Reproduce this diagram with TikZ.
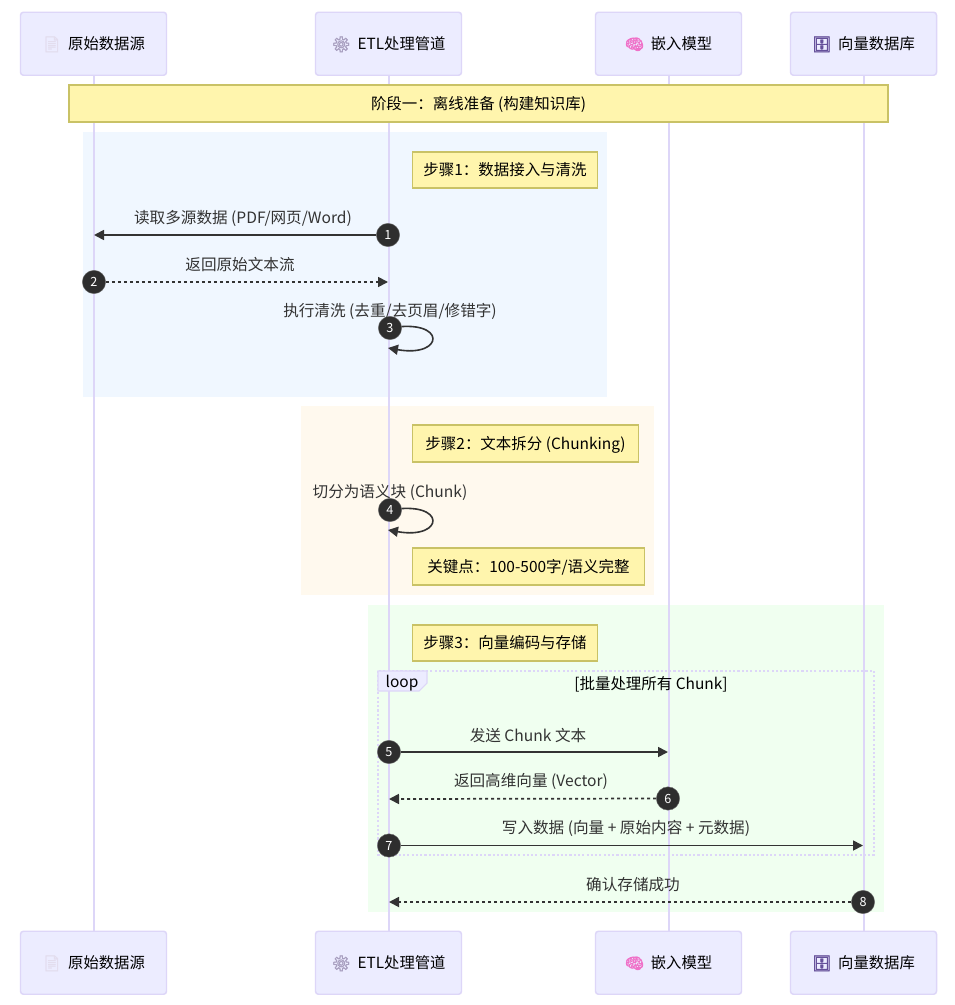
\documentclass[tikz,border=0pt]{standalone}
\usepackage{fontspec}
\setmainfont{Noto Sans CJK SC}
\newfontfamily\emo[FakeBold=2.5]{Noto Emoji}
\usetikzlibrary{arrows.meta,shapes.misc}
\definecolor{actfill}{HTML}{ECECFF}
\definecolor{actline}{HTML}{DDD6F8}
\definecolor{notefill}{HTML}{FFF5AD}
\definecolor{noteline}{HTML}{C9C266}
\definecolor{msg}{HTML}{333333}
\pgfdeclarelayer{bg}
\pgfdeclarelayer{mid}
\pgfsetlayers{bg,mid,main}
\tikzset{
  actor/.style={draw=actline,fill=actfill,line width=1.1pt,rounded corners=2.2pt,minimum width=109.5pt,minimum height=47.25pt,inner sep=0pt,font=\fontsize{11.5pt}{14pt}\selectfont,text=black},
  life/.style={draw=actline,line width=1.5pt},
  notebox/.style={draw=noteline,fill=notefill,line width=1.1pt,inner sep=0pt,font=\fontsize{11.6pt}{14pt}\selectfont,text=black},
  msgtext/.style={inner sep=0pt,text=msg,font=\fontsize{11.7pt}{14pt}\selectfont},
  solidmsg/.style={draw=msg,line width=1.3pt,-{Triangle[length=7.5pt,width=7.5pt]}},
  dashmsg/.style={draw=msg,line width=1.3pt,dash pattern=on 2.25pt off 2.25pt,-{Triangle[length=7.5pt,width=7.5pt,sep=0pt]}},
  selfmsg/.style={draw=msg,line width=1.2pt,-{Triangle[length=7.5pt,width=7.5pt]}},
  badge/.style={circle,fill=msg!90!black,draw=msg!70,line width=.3pt,minimum size=17.5pt,inner sep=0pt,text=white,font=\fontsize{9.5pt}{10pt}\selectfont},
  loopframe/.style={draw=actline,line width=1.5pt,dash pattern=on 1.6pt off 1.6pt},
  looptag/.style={draw=actline,fill=actfill,line width=.8pt},
  looptext/.style={inner sep=0pt,text=black,font=\fontsize{11.6pt}{14pt}\selectfont}
}
\newcommand{\acticon}[2]{\textcolor[HTML]{#1}{\emo\symbol{"#2}}\hspace{5pt}}
\newcommand{\lowtxt}[1]{\raisebox{-0.38em}[1em][1em]{#1}}
\begin{document}
\begin{tikzpicture}[x=0.75pt,y=-0.75pt]
\useasboundingbox (0,0) rectangle (955,1005);
% actors
\node[actor] (a1) at (93.5,43.75) {\lowtxt{\acticon{E3DDEE}{1F4C4}原始数据源}};
\node[actor] (a2) at (388.5,43.75) {\lowtxt{\acticon{A89FC0}{2699}ETL处理管道}};
\node[actor] (a3) at (668.5,43.75) {\lowtxt{\acticon{F070C8}{1F9E0}嵌入模型}};
\node[actor] (a4) at (863.5,43.75) {\lowtxt{\acticon{65509A}{1F5C4}向量数据库}};
\node[actor] (b1) at (93.5,962.75) {\lowtxt{\acticon{E3DDEE}{1F4C4}原始数据源}};
\node[actor] (b2) at (388.5,962.75) {\lowtxt{\acticon{A89FC0}{2699}ETL处理管道}};
\node[actor] (b3) at (668.5,962.75) {\lowtxt{\acticon{F070C8}{1F9E0}嵌入模型}};
\node[actor] (b4) at (863.5,962.75) {\lowtxt{\acticon{65509A}{1F5C4}向量数据库}};
% zones
\begin{pgfonlayer}{bg}
\fill[fill=white] (0,0) rectangle (955,1005);
\fill[fill={rgb,255:red,240;green,247;blue,255}] (83,132) rectangle (607,397);
\fill[fill={rgb,255:red,255;green,249;blue,238}] (301,406) rectangle (654,595);
\fill[fill={rgb,255:red,240;green,255;blue,240}] (368,605) rectangle (884,912);
\end{pgfonlayer}
% notes
\node[notebox,minimum width=614pt,minimum height=27.5pt] (stage) at (478.5,103.5) {\lowtxt{阶段一：离线准备 (构建知识库)}};
\node[notebox,minimum width=138.5pt,minimum height=27pt] (n1) at (505,170) {\lowtxt{步骤1：数据接入与清洗}};
\node[notebox,minimum width=169.5pt,minimum height=27.5pt] (n2) at (525.5,443.5) {\lowtxt{步骤2：文本拆分 (Chunking)}};
\node[notebox,minimum width=174pt,minimum height=27.5pt] (n3) at (528.5,566.5) {\lowtxt{关键点：100-500字/语义完整}};
\node[notebox,minimum width=138.5pt,minimum height=27pt] (n4) at (505,643) {\lowtxt{步骤3：向量编码与存储}};
% badges
\node[badge] (s1) at (388,235) {1};
\node[badge] (s2) at (94,282) {2};
\node[badge] (s3) at (390,328) {3};
\node[badge] (s4) at (390,510) {4};
\node[badge] (s5) at (389,752) {5};
\node[badge] (s6) at (668,798.5) {6};
\node[badge] (s7) at (389,845.5) {7};
\node[badge] (s8) at (863,902) {8};
% free ends
\coordinate (e1) at (94,235);
\coordinate (e2) at (388,282);
\coordinate (e3) at (388,348);
\coordinate (e4) at (388,530);
\coordinate (e5) at (668,752);
\coordinate (e6) at (389,799);
\coordinate (e7) at (863,845.5);
\coordinate (e8) at (389,902);
% labels
\node[msgtext] (t1) at (243,218.5) {读取多源数据 (PDF/网页/Word)};
\node[msgtext] (t2) at (240,264.5) {返回原始文本流};
\node[msgtext] (t3) at (390,311.5) {执行清洗 (去重/去页眉/修错字)};
\node[msgtext] (t4) at (390,492.5) {切分为语义块 (Chunk)};
\node[msgtext] (t5) at (528,735.5) {发送 Chunk 文本};
\node[msgtext] (t6) at (531,781.5) {返回高维向量 (Vector)};
\node[msgtext] (t7) at (626,828.5) {写入数据 (向量 + 原始内容 + 元数据)};
\node[msgtext] (t8) at (633,884.5) {确认存储成功};
% loop
\coordinate (lp1) at (378,671);
\coordinate (lp2) at (874,855);
\node[looptext] (lt) at (402,683) {loop};
\node[looptext] (lc) at (651,684) {[批量处理所有 Chunk]};
\begin{pgfonlayer}{mid}
\draw[life] (a1) -- (b1);
\draw[life] (a2) -- (b2);
\draw[life] (a3) -- (b3);
\draw[life] (a4) -- (b4);
\draw[loopframe] (lp1) rectangle (lp2);
\draw[looptag] (378,671) -- (427,671) -- (427,683) -- (419,691) -- (378,691) -- cycle;
\draw[solidmsg] (s1) -- (e1);
\draw[dashmsg] (s2) -- (e2);
\draw[selfmsg] (s3.center) .. controls +(57,-10) and +(57,10) .. (e3);
\draw[selfmsg] (s4.center) .. controls +(57,-10) and +(57,10) .. (e4);
\draw[solidmsg] (s5) -- (e5);
\draw[dashmsg] (s6) -- (e6);
\draw[solidmsg] (s7) -- (e7);
\draw[dashmsg] (s8) -- (e8);
\end{pgfonlayer}
\end{tikzpicture}
\end{document}
